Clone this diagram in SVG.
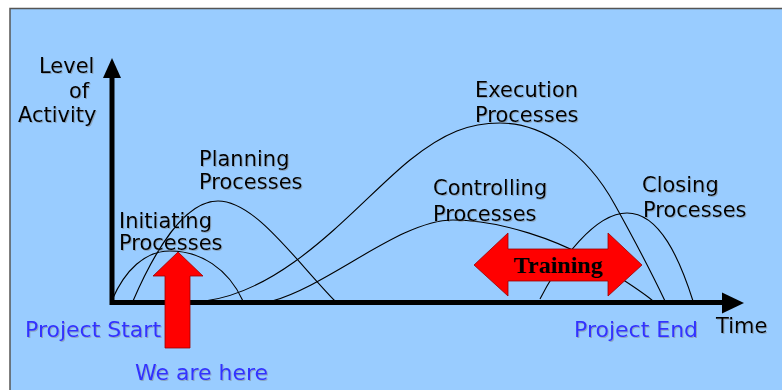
<svg xmlns="http://www.w3.org/2000/svg" width="782" height="390" viewBox="0 0 782 390">
  <defs>
    <style>
      .lbl { font-family: "DejaVu Sans", "Liberation Sans", sans-serif; font-size: 21px; fill: #000; filter: url(#sh); }
      .blue { font-family: "DejaVu Sans", "Liberation Sans", sans-serif; font-size: 22px; fill: #3333FF; filter: url(#sh); }
      .curve { fill: none; stroke: #000; stroke-width: 1.1; }
      .axis { stroke: #000; stroke-width: 5; fill: none; }
      .red { fill: #FF0000; stroke: #990000; stroke-width: 0.8; }
    </style>
    <filter id="sh" x="-5%" y="-20%" width="110%" height="140%">
      <feDropShadow dx="1" dy="1" stdDeviation="0.3" flood-color="#777" flood-opacity="0.45"/>
    </filter>
  </defs>

  <rect x="0" y="0" width="782" height="390" fill="#FFFFFF"/>
  <rect id="panel" x="10" y="8.5" width="780" height="390" fill="#99CCFF" stroke="#555" stroke-width="1.5"/>

  <g id="connectors">
    <path id="c-initiating" class="curve" d="M112,300 C125,270 145,251 170,251 C200,251 228,268 243,301"/>
    <path id="c-planning" class="curve" d="M133,301 C155,250 185,201 218,201 C255,201 295,260 335,301"/>
    <path id="c-execution" class="curve" d="M205,301 C290,290 360,200 410,160 C445,132 470,123 500,123 C540,123 585,150 615,205 C640,250 655,280 665,301"/>
    <path id="c-controlling" class="curve" d="M272,301 C330,285 400,220 453,220 C500,220 560,240 600,265 C620,278 640,290 653,301"/>
    <path id="c-closing" class="curve" d="M540,299 C560,260 595,213 627,213 C660,213 680,260 693,301"/>
  </g>

  <g id="axes">
    <path class="axis" d="M112,76 L112,302.5 L724,302.5"/>
    <polygon points="112,58 121,78 103,78" fill="#000"/>
    <polygon points="744,303 722,292.5 722,313.5" fill="#000"/>
  </g>

  <g id="axis-labels">
    <text class="lbl" x="39" y="73">Level</text>
    <text class="lbl" x="69" y="98">of</text>
    <text class="lbl" x="18" y="122">Activity</text>
    <text class="lbl" x="716" y="333">Time</text>
    <text class="blue" x="25" y="337">Project Start</text>
    <text class="blue" x="574" y="337">Project End</text>
  </g>

  <g id="initiating">
    <text class="lbl" x="119" y="228">Initiating</text>
    <text class="lbl" x="119" y="250">Processes</text>
  </g>
  <g id="planning">
    <text class="lbl" x="199" y="166">Planning</text>
    <text class="lbl" x="199" y="189">Processes</text>
  </g>
  <g id="execution">
    <text class="lbl" x="475" y="97">Execution</text>
    <text class="lbl" x="475" y="122">Processes</text>
  </g>
  <g id="controlling">
    <text class="lbl" x="433" y="195">Controlling</text>
    <text class="lbl" x="433" y="221">Processes</text>
  </g>
  <g id="closing">
    <text class="lbl" x="642" y="192">Closing</text>
    <text class="lbl" x="643" y="217">Processes</text>
  </g>

  <g id="we-are-here">
    <polygon class="red" points="178,252 203,276 190,276 190,348 165,348 165,276 153,276"/>
    <text class="blue" x="135" y="380">We are here</text>
  </g>

  <g id="training">
    <polygon class="red" points="474,265 508,233 508,249 608,249 608,233 642,265 608,296 608,281 508,281 508,296"/>
    <text x="558" y="273" text-anchor="middle" font-family="Liberation Serif, serif" font-weight="bold" font-size="24" fill="#000">Training</text>
  </g>
</svg>
